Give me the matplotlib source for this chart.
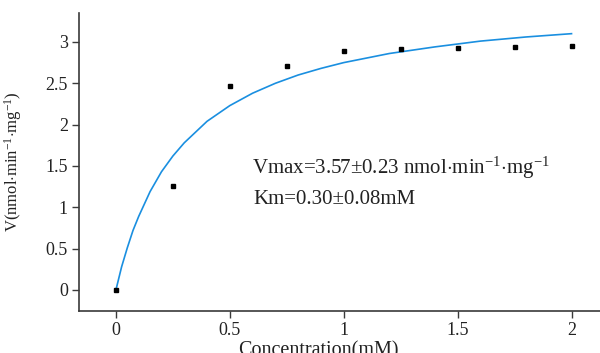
import matplotlib
matplotlib.use("Agg")
import matplotlib.pyplot as plt

plt.rcParams["font.family"] = ["Liberation Serif", "DejaVu Serif"]
plt.rcParams["mathtext.fontset"] = "custom"
plt.rcParams["mathtext.rm"] = "Liberation Serif"
plt.rcParams["mathtext.it"] = "Liberation Serif:italic"

# measured points
conc = [0, 0.25, 0.5, 0.75, 1.0, 1.25, 1.5, 1.75, 2.0]
rate = [0.0, 1.26, 2.47, 2.71, 2.89, 2.92, 2.93, 2.94, 2.95]

# fitted curve
fit_x = [0, 0.025, 0.05, 0.075, 0.1, 0.15, 0.2, 0.25, 0.3, 0.4, 0.5,
         0.6, 0.7, 0.8, 0.9, 1.0, 1.2, 1.4, 1.6, 1.8, 2.0]
fit_y = [0, 0.28, 0.51, 0.72, 0.89, 1.19, 1.43, 1.62, 1.78, 2.04, 2.23,
         2.38, 2.50, 2.60, 2.68, 2.75, 2.86, 2.94, 3.01, 3.06, 3.10]

x_ticks = [0, 0.5, 1, 1.5, 2]
x_labels = ["0", "0.5", "1", "1.5", "2"]
y_ticks = [0, 0.5, 1, 1.5, 2, 2.5, 3]
y_labels = ["0", "0.5", "1", "1.5", "2", "2.5", "3"]

W, H = 600, 353
fig = plt.figure(figsize=(6, 3.53), dpi=100)
ax = fig.add_axes([79 / W, 42 / H, 521 / W, 298 / H])

ax.plot(fit_x, fit_y, color="#1a8fe0", linewidth=1.2, zorder=2)
ax.plot(conc, rate, linestyle="none", marker="s", markersize=2.2,
        color="black", zorder=3)

ax.set_xlim(-0.162, 2.125)
ax.set_ylim(-0.254, 3.35)
ax.set_xticks(x_ticks)
ax.set_xticklabels(x_labels)
ax.set_yticks(y_ticks)
ax.set_yticklabels(y_labels)

for side in ("top", "right"):
    ax.spines[side].set_visible(False)
for side in ("left", "bottom"):
    ax.spines[side].set_color("#3a3a3a")
    ax.spines[side].set_linewidth(1.2)
ax.tick_params(direction="out", length=5, width=1.0, color="#3a3a3a",
               labelsize=13, pad=3, labelcolor="#222222")

# x label sits partly below the figure edge, as in the original
fig.text(318 / W, 1 - 341 / H, "Concentration(mM)", fontsize=14.5,
         color="#222222", ha="center", va="top")

ax.set_ylabel(r"V(nmol$\cdot$min$^{-1}$$\cdot$mg$^{-1}$)", fontsize=12,
              color="#222222")
ax.yaxis.set_label_coords(-0.105, 0.5)

fig.text(252 / W, 1 - 168 / H,
         r"Vmax=3.57±0.23 nmol$\cdot$min$^{-1}$$\cdot$mg$^{-1}$",
         fontsize=15, color="#222222", va="center")
fig.text(253 / W, 1 - 200 / H, "Km=0.30±0.08mM", fontsize=15,
         color="#222222", va="center")

fig.savefig("out.png", dpi=100)
